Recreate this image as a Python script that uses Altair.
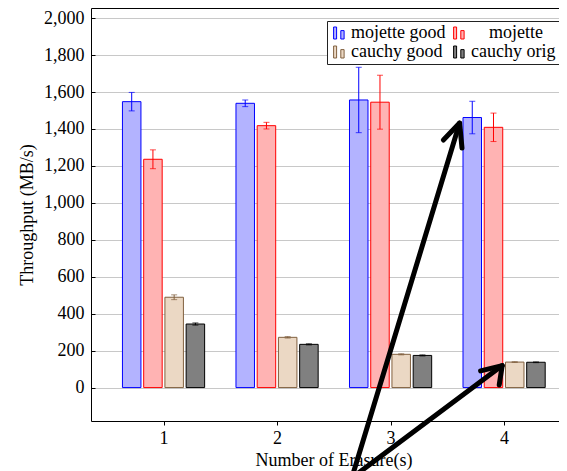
import altair as alt
import pandas as pd

# ---- data ----
erasures = [1, 2, 3, 4]
series_names = ["mojette good", "mojette", "cauchy good", "cauchy orig"]

mojette_good = [1548, 1539, 1557, 1462]
mojette_good_err = [50, 18, 177, 88]
mojette = [1236, 1418, 1545, 1409]
mojette_err = [51, 18, 146, 77]
cauchy_good = [489, 272, 180, 138]
cauchy_good_err = [13, 4, 3, 2]
cauchy_orig = [344, 234, 174, 137]
cauchy_orig_err = [6, 3, 3, 2]

y_ticks = [0, 200, 400, 600, 800, 1000, 1200, 1400, 1600, 1800, 2000]

# annotation arrows (data coordinates: erasure units, MB/s)
arrow1_shaft_x = [2.653, 3.608]
arrow1_shaft_y = [-500, 1432]
arrow1_head_x = [3.465, 3.608, 3.629]
arrow1_head_y = [1340, 1432, 1297]
arrow2_shaft_x = [2.635, 3.983]
arrow2_shaft_y = [-500, 119]
arrow2_head_x = [3.793, 3.983, 3.957]
arrow2_head_y = [90, 119, 14]

# ---- styling ----
strokes = ["#0000ff", "#ff0000", "#80603f", "#000000"]
fills = ["#b3b3ff", "#ffb3b3", "#ebd8c4", "#808080"]
FONT = "Liberation Serif"

rows = []
for si, (name, vals, errs) in enumerate(zip(
        series_names,
        [mojette_good, mojette, cauchy_good, cauchy_orig],
        [mojette_good_err, mojette_err, cauchy_good_err, cauchy_orig_err])):
    for e, v, er in zip(erasures, vals, errs):
        rows.append({"erasure": e, "series": name, "idx": si, "value": v, "err": er})
df = pd.DataFrame(rows)

arows = []
for seg, xs, ys in [("a1s", arrow1_shaft_x, arrow1_shaft_y),
                    ("a1h", arrow1_head_x, arrow1_head_y),
                    ("a2s", arrow2_shaft_x, arrow2_shaft_y),
                    ("a2h", arrow2_head_x, arrow2_head_y)]:
    for i, (x, y) in enumerate(zip(xs, ys)):
        arows.append({"seg": seg, "ord": i, "ax": x, "ay": y})
adf = pd.DataFrame(arows)

W, H = 468, 413
xscale = alt.Scale(domain=[0.405, 4.4395], nice=False, zero=False)
yscale = alt.Scale(domain=[-181, 2055], nice=False, zero=False)

# the second-column label "mojette" is centred in its cell, as in the reference
legend = alt.Legend(
    orient="none", legendX=236, legendY=13, columns=2, direction="horizontal",
    title=None,
    symbolType="M-0.9,-1H-0.4V1H-0.9Z M0.3,-0.4H0.85V1H0.3Z",
    symbolSize=144, symbolStrokeWidth=1, symbolOpacity=1,
    labelFont=FONT, labelFontSize=18, labelColor="black", labelOffset=3,
    padding=3, rowPadding=1, columnPadding=4,
    strokeColor="#222222", fillColor="white",
    labelExpr="datum.label == 'mojette' ? '\u200b\u00a0\u00a0\u00a0\u00a0mojette' : datum.label",
)

base = alt.Chart(df).transform_calculate(
    xpos="datum.erasure + (datum.idx - 1.5) * 0.187",
    lo="datum.value - datum.err",
    hi="datum.value + datum.err",
)

bars = base.mark_bar(size=18.5, strokeWidth=1).encode(
    x=alt.X("xpos:Q", scale=xscale, axis=alt.Axis(
        orient="bottom", values=erasures, format="d", title="Number of Erasure(s)",
        grid=False, tickSize=4, labelPadding=18, labelBaseline="alphabetic",
        titleX=242.5, titleY=44, titleAlign="center", titleBaseline="alphabetic")),
    y=alt.Y("value:Q", scale=yscale, axis=alt.Axis(
        orient="left", values=y_ticks, format=",d", title="Throughput (MB/s)",
        grid=True, gridColor="#c8c8c8", gridWidth=1, tickSize=0, labelPadding=7,
        titleX=-64, titleY=206.5, titleAngle=270, titleAlign="center",
        titleBaseline="middle")),
    y2=alt.datum(0),
    fill=alt.Fill("series:N", scale=alt.Scale(domain=series_names, range=fills), legend=legend),
    stroke=alt.Stroke("series:N", scale=alt.Scale(domain=series_names, range=strokes), legend=legend),
)

errcolor = alt.Color("series:N", scale=alt.Scale(domain=series_names, range=strokes), legend=None)

err_rules = base.mark_rule(strokeWidth=1).encode(
    x=alt.X("xpos:Q", scale=xscale, axis=None),
    y=alt.Y("lo:Q", scale=yscale, axis=None),
    y2="hi:Q",
    color=errcolor,
)

caps = base.transform_fold(["lo", "hi"], as_=["k", "capv"]).mark_tick(
    orient="horizontal", size=6, thickness=1).encode(
    x=alt.X("xpos:Q", scale=xscale, axis=None),
    y=alt.Y("capv:Q", scale=yscale, axis=None),
    color=errcolor,
)

arrows = alt.Chart(adf).mark_line(
    color="black", strokeWidth=5, strokeCap="round", strokeJoin="round", clip=False
).encode(
    x=alt.X("ax:Q", scale=xscale, axis=alt.Axis(
        orient="top", labels=False, ticks=False, domain=True, grid=False, title=None)),
    y=alt.Y("ay:Q", scale=yscale, axis=alt.Axis(
        orient="right", offset=-W, values=y_ticks, labels=False, ticks=True,
        tickSize=4, domain=False, grid=False, title=None)),
    detail="seg:N",
    order="ord:Q",
)

chart = alt.layer(bars, err_rules, caps, arrows).resolve_axis(
    x="independent", y="independent"
).properties(
    width=W, height=H,
    padding={"left": 83, "top": 0, "right": 0, "bottom": 50},
    autosize=alt.AutoSizeParams(type="none"),
).configure(
    font=FONT,
).configure_axis(
    labelFont=FONT, titleFont=FONT, labelFontSize=18, titleFontSize=18,
    titleFontWeight="normal", labelColor="black", titleColor="black",
    domainColor="black", tickColor="black", domainWidth=1,
).configure_legend(
    labelFont=FONT, labelFontSize=18,
).configure_view(stroke=None)

chart.save("out.html", embed_options={"renderer": "svg", "actions": False})
